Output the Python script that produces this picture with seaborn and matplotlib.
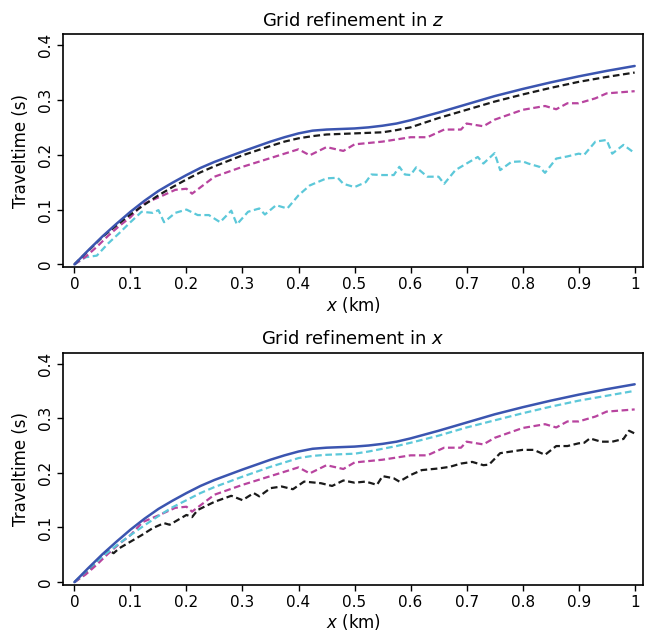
import numpy as np
import pandas as pd
import matplotlib
matplotlib.use("Agg")
import matplotlib.pyplot as plt
import seaborn as sns

# ---- data ----
x_smooth = [0, 0.025, 0.05, 0.075, 0.1, 0.125, 0.15, 0.175, 0.2, 0.225, 0.25, 0.3, 0.35,
            0.375, 0.4, 0.425, 0.45, 0.475, 0.5, 0.525, 0.55, 0.575, 0.6, 0.65, 0.7,
            0.75, 0.8, 0.85, 0.9, 0.95, 1.0]
t_exact = [0, 0.026, 0.051, 0.074, 0.096, 0.116, 0.134, 0.149, 0.163, 0.176, 0.187,
           0.206, 0.224, 0.232, 0.239, 0.244, 0.246, 0.247, 0.248, 0.250, 0.253, 0.257,
           0.263, 0.277, 0.292, 0.307, 0.320, 0.332, 0.343, 0.353, 0.362]
t_z_fine = [0, 0.025, 0.050, 0.071, 0.091, 0.109, 0.126, 0.141, 0.155, 0.168, 0.179,
            0.199, 0.216, 0.224, 0.230, 0.234, 0.237, 0.238, 0.239, 0.240, 0.241, 0.245,
            0.250, 0.267, 0.282, 0.297, 0.310, 0.322, 0.333, 0.342, 0.350]
t_x_fine = [0, 0.024, 0.047, 0.067, 0.086, 0.104, 0.121, 0.137, 0.150, 0.163, 0.174,
            0.193, 0.211, 0.219, 0.227, 0.231, 0.233, 0.234, 0.235, 0.239, 0.244, 0.249,
            0.255, 0.268, 0.283, 0.296, 0.309, 0.321, 0.332, 0.341, 0.350]

x_mid = [0, 0.02, 0.04, 0.06, 0.08, 0.1, 0.122, 0.152, 0.18, 0.2, 0.21, 0.25, 0.3, 0.35,
         0.4, 0.42, 0.45, 0.48, 0.5, 0.55, 0.6, 0.63, 0.66, 0.69, 0.7, 0.73, 0.75, 0.8,
         0.84, 0.86, 0.88, 0.9, 0.93, 0.95, 1.0]
t_mid = [0, 0.014, 0.032, 0.052, 0.070, 0.086, 0.110, 0.123, 0.136, 0.138, 0.129, 0.160,
         0.178, 0.194, 0.210, 0.199, 0.214, 0.207, 0.219, 0.224, 0.232, 0.232, 0.246,
         0.246, 0.257, 0.252, 0.264, 0.282, 0.289, 0.283, 0.294, 0.294, 0.303, 0.312, 0.316]

x_z_coarse = [0, 0.02, 0.04, 0.06, 0.08, 0.1, 0.12, 0.14, 0.15, 0.16, 0.18, 0.2, 0.22,
              0.24, 0.26, 0.28, 0.29, 0.31, 0.33, 0.34, 0.36, 0.38, 0.4, 0.42, 0.45,
              0.47, 0.48, 0.5, 0.52, 0.53, 0.55, 0.57, 0.58, 0.59, 0.6, 0.61, 0.63,
              0.65, 0.66, 0.68, 0.7, 0.72, 0.73, 0.75, 0.76, 0.78, 0.8, 0.81, 0.83,
              0.84, 0.86, 0.88, 0.9, 0.91, 0.93, 0.95, 0.96, 0.98, 1.0]
t_z_coarse = [0, 0.013, 0.016, 0.038, 0.057, 0.077, 0.096, 0.094, 0.099, 0.077, 0.094,
              0.100, 0.090, 0.090, 0.077, 0.098, 0.073, 0.096, 0.102, 0.091, 0.108,
              0.102, 0.126, 0.144, 0.157, 0.158, 0.147, 0.141, 0.150, 0.164, 0.163,
              0.163, 0.178, 0.164, 0.163, 0.177, 0.160, 0.160, 0.147, 0.172, 0.184,
              0.196, 0.184, 0.203, 0.172, 0.187, 0.188, 0.184, 0.178, 0.167, 0.193,
              0.197, 0.202, 0.200, 0.224, 0.227, 0.202, 0.218, 0.203]

x_x_coarse = [0, 0.02, 0.04, 0.06, 0.07, 0.08, 0.1, 0.12, 0.14, 0.16, 0.17, 0.2, 0.21,
              0.22, 0.25, 0.28, 0.3, 0.32, 0.33, 0.35, 0.37, 0.39, 0.41, 0.44, 0.46,
              0.48, 0.5, 0.52, 0.54, 0.55, 0.57, 0.58, 0.6, 0.62, 0.65, 0.67, 0.69,
              0.71, 0.73, 0.74, 0.76, 0.78, 0.8, 0.82, 0.84, 0.86, 0.88, 0.9, 0.91,
              0.92, 0.94, 0.96, 0.98, 0.99, 1.0]
t_x_coarse = [0, 0.016, 0.038, 0.059, 0.053, 0.062, 0.074, 0.086, 0.099, 0.108, 0.105,
              0.123, 0.119, 0.132, 0.147, 0.158, 0.150, 0.163, 0.157, 0.172, 0.175,
              0.170, 0.184, 0.181, 0.176, 0.186, 0.182, 0.184, 0.178, 0.194, 0.190,
              0.184, 0.196, 0.205, 0.208, 0.211, 0.217, 0.220, 0.214, 0.215, 0.236,
              0.239, 0.242, 0.242, 0.233, 0.249, 0.249, 0.254, 0.255, 0.263, 0.257,
              0.257, 0.262, 0.277, 0.272]

x_ticks = [0, 0.1, 0.2, 0.3, 0.4, 0.5, 0.6, 0.7, 0.8, 0.9, 1]
x_ticklabels = ["0", "0.1", "0.2", "0.3", "0.4", "0.5", "0.6", "0.7", "0.8", "0.9", "1"]
y_ticks = [0, 0.1, 0.2, 0.3, 0.4]
y_ticklabels = ["0", "0.1", "0.2", "0.3", "0.4"]
titles = ["Grid refinement in $z$", "Grid refinement in $x$"]

BLUE = "#3b55b0"
BLACK = "#1a1a1a"
MAGENTA = "#b8449f"
CYAN = "#5cc8d9"

sns.set_style("ticks")
plt.rcParams["font.family"] = ["DejaVu Sans"]
plt.rcParams["text.color"] = "black"
plt.rcParams["axes.labelcolor"] = "black"
plt.rcParams["xtick.color"] = "black"
plt.rcParams["ytick.color"] = "black"

fig = plt.figure(figsize=(6.45, 6.33), dpi=100)
ax1 = fig.add_axes([0.098, 0.578, 0.899, 0.368])
ax2 = fig.add_axes([0.098, 0.076, 0.899, 0.367])

def df(x, t):
    return pd.DataFrame({"x": x, "t": t})

dash = (3.0, 1.6)
lw = 1.6

def dashed(ax, x, t, color):
    sns.lineplot(data=df(x, t), x="x", y="t", ax=ax, color=color,
                 lw=lw, estimator=None, sort=False)
    ax.lines[-1].set_dashes(dash)

# top panel
dashed(ax1, x_z_coarse, t_z_coarse, CYAN)
dashed(ax1, x_mid, t_mid, MAGENTA)
dashed(ax1, x_smooth, t_z_fine, BLACK)
sns.lineplot(data=df(x_smooth, t_exact), x="x", y="t", ax=ax1, color=BLUE,
             lw=1.8, estimator=None, sort=False)

# bottom panel
dashed(ax2, x_x_coarse, t_x_coarse, BLACK)
dashed(ax2, x_mid, t_mid, MAGENTA)
dashed(ax2, x_smooth, t_x_fine, CYAN)
sns.lineplot(data=df(x_smooth, t_exact), x="x", y="t", ax=ax2, color=BLUE,
             lw=1.8, estimator=None, sort=False)

for ax, title in zip([ax1, ax2], titles):
    ax.set_xlim(-0.02, 1.015)
    ax.set_ylim(-0.005, 0.42)
    ax.set_xticks(x_ticks)
    ax.set_xticklabels(x_ticklabels, fontsize=11)
    ax.set_yticks(y_ticks)
    ax.set_yticklabels(y_ticklabels, fontsize=11, rotation=90, va="center")
    ax.tick_params(direction="out", length=4, width=1, pad=3)
    ax.set_xlabel("$x$ (km)", fontsize=12, labelpad=2)
    ax.set_ylabel("Traveltime (s)", fontsize=12, labelpad=6)
    ax.set_title(title, fontsize=13, pad=6)
    for s in ax.spines.values():
        s.set_visible(True)
        s.set_linewidth(1.2)
        s.set_color("black")

fig.savefig("out.png", dpi=100)
